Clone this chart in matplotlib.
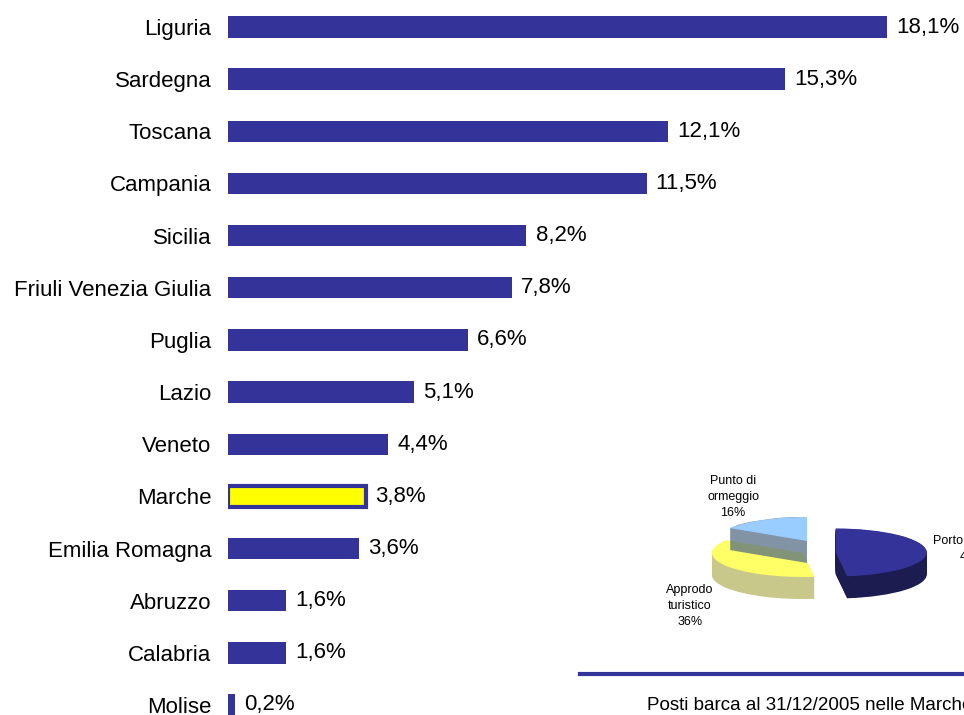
import numpy as np
import matplotlib
matplotlib.use("Agg")
import matplotlib.pyplot as plt
from matplotlib.patches import Polygon

plt.rcParams['font.family'] = ['Liberation Sans', 'DejaVu Sans']

# data
regioni = ['Liguria', 'Sardegna', 'Toscana', 'Campania', 'Sicilia',
           'Friuli Venezia Giulia', 'Puglia', 'Lazio', 'Veneto', 'Marche',
           'Emilia Romagna', 'Abruzzo', 'Calabria', 'Molise']
quote = [18.1, 15.3, 12.1, 11.5, 8.2, 7.8, 6.6, 5.1, 4.4, 3.8, 3.6, 1.6, 1.6, 0.2]

tipi = ['Porto turistico', 'Approdo\nturistico', 'Punto di\normeggio']
tipi_pct = [48, 36, 16]

caption = 'Posti barca al 31/12/2005 nelle Marche'

fig = plt.figure(figsize=(9.64, 7.15), dpi=100)

# bar chart
ax = fig.add_axes([228 / 964, 0, 1 - 228 / 964, 1])
y = np.arange(len(regioni))
colori = ['#FFFF00' if r == 'Marche' else '#333399' for r in regioni]
bars = ax.barh(y, quote, height=0.41, color=colori, edgecolor='#333399', linewidth=0)
i_m = regioni.index('Marche')
bars[i_m].set_linewidth(3)
ax.set_xlim(0, (964 - 228) / 36.4)
ax.set_ylim(13 + 10 / 52.15, -27 / 52.15)
ax.set_yticks(y)
ax.set_yticklabels(regioni, fontsize=16)
ax.tick_params(axis='y', length=0, pad=12)
ax.set_xticks([])
for s in ax.spines.values():
    s.set_visible(False)
for yi, v in zip(y, quote):
    ax.text(v + 0.25, yi, ('%.1f%%' % v).replace('.', ','), va='center', ha='left', fontsize=16)

# small 3d-ish pie (pixel scale: rx, ry)
rx, ry = 91, 24
cx, cy = 803, 553
pax = fig.add_axes([640 / 964, 75 / 715, 324 / 964, 180 / 715])
top_col = ['#333399', '#FFFF66', '#99CCFF']
side_col = ['#1C1C50', '#C8C88A', '#4D6680']
explode = [0.36, 0, 0]
punto_shift = (4 / rx, 12 / ry)
depth = 22 / ry


def hull(pts):
    # monotone chain convex hull
    pts = sorted(set(map(tuple, np.round(pts, 6))))
    def cross(o, a, b):
        return (a[0] - o[0]) * (b[1] - o[1]) - (a[1] - o[1]) * (b[0] - o[0])
    lo, up = [], []
    for p in pts:
        while len(lo) >= 2 and cross(lo[-2], lo[-1], p) <= 0:
            lo.pop()
        lo.append(p)
    for p in reversed(pts):
        while len(up) >= 2 and cross(up[-2], up[-1], p) <= 0:
            up.pop()
        up.append(p)
    return lo[:-1] + up[:-1]


def draw_pie(off, cols, top):
    w = pax.pie(tipi_pct, colors=cols, startangle=90, counterclock=False,
                explode=explode, center=(0, -off), wedgeprops=dict(linewidth=0))[0]
    c = w[2].center
    w[2].set_center((c[0] + punto_shift[0], c[1] + punto_shift[1]))
    w[0].set_zorder(2 if top else 1)
    w[1].set_zorder(2 if top else 1)
    w[2].set_zorder(4)
    return w


for k in np.linspace(depth, 0.02, 30):
    draw_pie(k, side_col, False)[2].remove()
wt = draw_pie(0, top_col, True)

# side wall of the back slice, seen through the front one
v = wt[2].get_path().vertices
side = hull(np.vstack([v, v - [0, depth]]))
pax.add_patch(Polygon(side, closed=True, facecolor=side_col[2], alpha=0.7,
                      linewidth=0, zorder=3))

pax.set_aspect('auto')
pax.set_xlim((640 - cx) / rx, (964 - cx) / rx)
pax.set_ylim(-(640 - cy) / ry, (cy - 460) / ry)
pax.axis('off')
pax.text((972 - cx) / rx, (cy - 549) / ry, tipi[0] + '\n%d%%' % tipi_pct[0],
         ha='center', va='center', fontsize=9, linespacing=1.4, clip_on=False)
pax.text((690 - cx) / rx, (cy - 606) / ry, tipi[1] + '\n%d%%' % tipi_pct[1],
         ha='center', va='center', fontsize=9, linespacing=1.4)
pax.text((733 - cx) / rx, (cy - 497) / ry, tipi[2] + '\n%d%%' % tipi_pct[2],
         ha='center', va='center', fontsize=9, linespacing=1.4)

# caption with line
fig.add_artist(plt.Line2D([580 / 964, 1], [1 - 674 / 715, 1 - 674 / 715],
                          color='#333399', linewidth=3, transform=fig.transFigure))
fig.text(647 / 964, 1 - 705 / 715, caption, ha='left', va='center', fontsize=13.5)

fig.savefig('out.png', dpi=100, facecolor='white')
